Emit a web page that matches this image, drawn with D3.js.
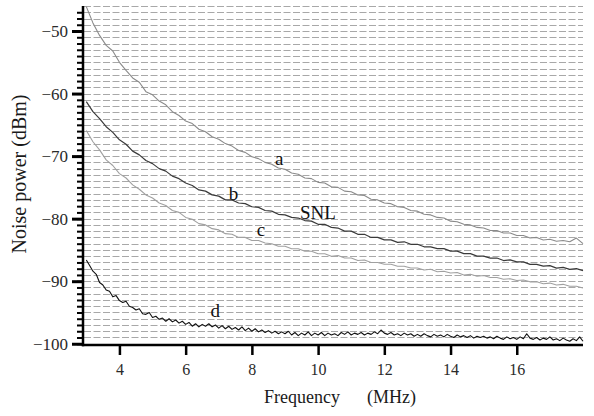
<!DOCTYPE html>
<html><head><meta charset="utf-8">
<script src="https://cdn.jsdelivr.net/npm/d3@7/dist/d3.min.js"></script>
<style>
body{margin:0;background:#fff;}
svg{display:block;font-family:"Liberation Serif","Times New Roman",serif;}
</style></head>
<body><svg id="c" width="594" height="416"></svg>
<script>
// Frequency grid (MHz) for curves a, b, c
const freqABC = [3.0,3.2,3.4,3.6,3.8,4.0,4.2,4.4,4.6,4.8,5.0,5.2,5.4,5.6,5.8,6.0,6.2,6.4,6.6,6.8,7.0,7.2,7.4,7.6,7.8,8.0,8.2,8.4,8.6,8.8,9.0,9.2,9.4,9.6,9.8,10.0,10.2,10.4,10.6,10.8,11.0,11.2,11.4,11.6,11.8,12.0,12.2,12.4,12.6,12.8,13.0,13.2,13.4,13.6,13.8,14.0,14.2,14.4,14.6,14.8,15.0,15.2,15.4,15.6,15.8,16.0,16.2,16.4,16.6,16.8,17.0,17.2,17.4,17.6,17.8,18.0];
const seriesA = [-46.1,-48.7,-50.7,-52.3,-53.2,-55.0,-56.3,-57.5,-58.2,-59.7,-60.2,-61.2,-61.8,-62.9,-63.5,-64.4,-64.8,-65.7,-66.1,-66.9,-67.3,-68.0,-68.4,-69.1,-69.4,-70.1,-70.4,-71.0,-71.3,-71.9,-72.1,-72.7,-72.9,-73.5,-73.6,-74.2,-74.3,-74.9,-75.0,-75.6,-75.7,-76.2,-76.3,-76.9,-77.0,-77.5,-77.6,-78.1,-78.2,-78.7,-78.8,-79.3,-79.4,-79.8,-79.9,-80.4,-80.5,-80.9,-81.0,-81.4,-81.5,-81.9,-81.9,-82.3,-82.3,-82.7,-82.7,-83.1,-83.0,-83.4,-83.3,-83.6,-83.5,-83.7,-83.1,-84.0];
const seriesB = [-61.3,-62.9,-64.0,-65.3,-66.2,-67.4,-68.1,-69.2,-69.8,-70.7,-71.2,-72.0,-72.4,-73.2,-73.6,-74.3,-74.7,-75.4,-75.6,-76.2,-76.4,-77.0,-77.0,-77.5,-77.6,-78.1,-78.2,-78.7,-78.8,-79.3,-79.4,-79.8,-79.9,-80.3,-80.4,-80.9,-80.9,-81.4,-81.5,-82.0,-82.0,-82.5,-82.5,-83.0,-83.0,-83.4,-83.4,-83.8,-83.7,-84.1,-84.1,-84.5,-84.5,-84.8,-84.8,-85.2,-85.2,-85.6,-85.6,-86.0,-86.0,-86.3,-86.3,-86.7,-86.6,-86.9,-86.9,-87.3,-87.3,-87.6,-87.5,-87.9,-87.8,-88.1,-88.0,-88.3];
const seriesC = [-65.9,-67.7,-69.0,-70.6,-71.5,-72.8,-73.5,-74.6,-75.3,-76.2,-76.7,-77.5,-77.9,-78.7,-79.0,-79.8,-80.1,-80.8,-81.0,-81.6,-81.8,-82.4,-82.5,-83.0,-83.0,-83.5,-83.5,-83.9,-84.0,-84.4,-84.4,-84.8,-84.8,-85.2,-85.2,-85.6,-85.6,-86.0,-85.9,-86.3,-86.3,-86.7,-86.6,-87.0,-87.0,-87.3,-87.3,-87.6,-87.6,-87.9,-87.9,-88.2,-88.1,-88.5,-88.4,-88.7,-88.6,-89.0,-88.9,-89.2,-89.1,-89.4,-89.4,-89.7,-89.6,-89.9,-89.8,-90.1,-90.1,-90.4,-90.3,-90.6,-90.5,-90.8,-90.8,-91.1];
// Frequency grid (MHz) for curve d
const freqD = [3.0,3.1,3.2,3.3,3.4,3.5,3.6,3.7,3.8,3.9,4.0,4.1,4.2,4.3,4.4,4.5,4.6,4.7,4.8,4.9,5.0,5.1,5.2,5.3,5.4,5.5,5.6,5.7,5.8,5.9,6.0,6.1,6.2,6.3,6.4,6.5,6.6,6.7,6.8,6.9,7.0,7.1,7.2,7.3,7.4,7.5,7.6,7.7,7.8,7.9,8.0,8.1,8.2,8.3,8.4,8.5,8.6,8.7,8.8,8.9,9.0,9.1,9.2,9.3,9.4,9.5,9.6,9.7,9.8,9.9,10.0,10.1,10.2,10.3,10.4,10.5,10.6,10.7,10.8,10.9,11.0,11.1,11.2,11.3,11.4,11.5,11.6,11.7,11.8,11.9,12.0,12.1,12.2,12.3,12.4,12.5,12.6,12.7,12.8,12.9,13.0,13.1,13.2,13.3,13.4,13.5,13.6,13.7,13.8,13.9,14.0,14.1,14.2,14.3,14.4,14.5,14.6,14.7,14.8,14.9,15.0,15.1,15.2,15.3,15.4,15.5,15.6,15.7,15.8,15.9,16.0,16.1,16.2,16.3,16.4,16.5,16.6,16.7,16.8,16.9,17.0,17.1,17.2,17.3,17.4,17.5,17.6,17.7,17.8,17.9,18.0];
const seriesD = [-86.6,-87.5,-88.4,-88.9,-90.2,-90.6,-91.4,-91.6,-92.5,-92.3,-93.1,-93.4,-93.2,-94.0,-94.2,-94.6,-94.4,-95.2,-95.3,-95.0,-95.8,-95.6,-96.1,-95.9,-96.4,-96.0,-96.5,-96.2,-96.7,-96.4,-96.9,-96.6,-97.2,-96.8,-97.3,-96.9,-97.2,-96.8,-97.3,-97.0,-97.5,-97.1,-97.6,-97.2,-97.7,-97.4,-97.8,-97.3,-97.9,-97.5,-98.0,-97.6,-98.1,-97.8,-98.2,-97.9,-98.3,-98.0,-98.4,-98.1,-98.4,-98.0,-98.6,-98.2,-98.7,-98.3,-98.6,-98.1,-98.7,-98.3,-98.6,-98.2,-98.7,-98.3,-98.6,-98.4,-98.7,-98.2,-98.5,-98.1,-98.6,-98.3,-98.5,-98.2,-98.6,-98.3,-98.5,-98.1,-98.4,-97.8,-98.3,-98.5,-98.2,-98.6,-98.4,-98.7,-98.3,-98.6,-98.4,-98.8,-98.5,-98.8,-98.4,-98.7,-98.9,-98.5,-98.8,-98.6,-98.9,-98.5,-98.8,-99.0,-98.6,-98.9,-98.7,-99.0,-98.7,-99.1,-98.8,-99.0,-98.8,-99.1,-98.9,-99.2,-98.8,-99.1,-99.3,-98.9,-99.2,-99.0,-99.3,-98.9,-99.2,-98.4,-99.1,-99.3,-99.0,-99.4,-99.1,-99.3,-98.9,-99.4,-99.2,-99.5,-99.1,-99.4,-99.6,-99.2,-99.5,-98.9,-99.6];
const xTicks = [4,6,8,10,12,14,16];
const yTicks = [-50,-60,-70,-80,-90,-100];
const curveLabels = [
  {text:"a", f:8.7, v:-71.4},
  {text:"b", f:7.3, v:-77.0},
  {text:"SNL", f:9.45, v:-80.1},
  {text:"c", f:8.15, v:-82.8},
  {text:"d", f:6.75, v:-95.7}
];

const svg = d3.select("#c");
const x = d3.scaleLinear().domain([2.9, 18]).range([83, 583]);
const y = d3.scaleLinear().domain([-100.2, -46]).range([345, 6]);

// grid lines every 1 dB
const gridVals = d3.range(-100, -45, 1);
svg.append("g").selectAll("line").data(gridVals).join("line")
  .attr("x1", x.range()[0]+1).attr("x2", x.range()[1])
  .attr("y1", d => Math.round(y(d))+0.5).attr("y2", d => Math.round(y(d))+0.5)
  .attr("stroke", "#a8a8a8").attr("stroke-width", 1)
  .attr("stroke-dasharray", "7,2.5");

// curves
const line = d3.line().x(d => x(d[0])).y(d => y(d[1]));
const curves = [
  {f: freqABC, v: seriesA, color: "#8a8a8a", w: 1.1},
  {f: freqABC, v: seriesB, color: "#3a3a3a", w: 1.2},
  {f: freqABC, v: seriesC, color: "#a0a0a0", w: 1.1},
  {f: freqD, v: seriesD, color: "#111", w: 1.1}
];
curves.forEach(c => {
  svg.append("path").datum(c.f.map((f,i) => [f, c.v[i]]))
    .attr("d", line).attr("fill", "none")
    .attr("stroke", c.color).attr("stroke-width", c.w)
    .attr("stroke-linejoin", "round");
});

// Y axis with minor ticks
const yMinor = d3.axisLeft(y).tickValues(d3.range(-100, -46, 1)).tickSize(6).tickFormat("");
const gyMinor = svg.append("g").attr("transform", "translate(83,0)").call(yMinor);
gyMinor.select(".domain").remove();
gyMinor.selectAll("line").attr("stroke", "#000").attr("stroke-width", 2);
const yAxis = d3.axisLeft(y).tickValues(yTicks).tickSize(11).tickPadding(4)
  .tickFormat(d => String(d).replace("-", "\u2212"));
const gy = svg.append("g").attr("transform", "translate(83,0)").call(yAxis);
gy.select(".domain").remove();
gy.selectAll("line").attr("stroke", "#000").attr("stroke-width", 3);
gy.selectAll("text").attr("font-size", 17).attr("fill", "#2a2a2a")
  .attr("font-family", "Liberation Serif, serif");

// X axis
const xAxis = d3.axisBottom(x).tickValues(xTicks).tickSize(10).tickPadding(9);
const gx = svg.append("g").attr("transform", "translate(0,345)").call(xAxis);
gx.select(".domain").remove();
gx.selectAll("line").attr("stroke", "#000").attr("stroke-width", 2.5);
gx.selectAll("text").attr("font-size", 16).attr("fill", "#2a2a2a")
  .attr("font-family", "Liberation Serif, serif");

// axis lines
svg.append("line").attr("x1", 83).attr("x2", 83).attr("y1", 6).attr("y2", 346.3)
  .attr("stroke", "#000").attr("stroke-width", 2.5);
svg.append("line").attr("x1", 81.8).attr("x2", 583).attr("y1", 345).attr("y2", 345)
  .attr("stroke", "#000").attr("stroke-width", 2.5);

// curve labels
svg.append("g").selectAll("text").data(curveLabels).join("text")
  .attr("x", d => x(d.f)).attr("y", d => y(d.v))
  .attr("font-size", 19).attr("fill", "#111")
  .text(d => d.text);

// axis titles
svg.append("text").attr("x", 340).attr("y", 403).attr("text-anchor", "middle")
  .attr("font-size", 18).attr("fill", "#1a1a1a")
  .attr("xml:space", "preserve").style("white-space", "pre")
  .text("Frequency\u2003\u2002(MHz)");
svg.append("text").attr("transform", "translate(26,174) rotate(-90)")
  .attr("text-anchor", "middle").attr("font-size", 20).attr("fill", "#1a1a1a")
  .text("Noise power (dBm)");
</script></body></html>
